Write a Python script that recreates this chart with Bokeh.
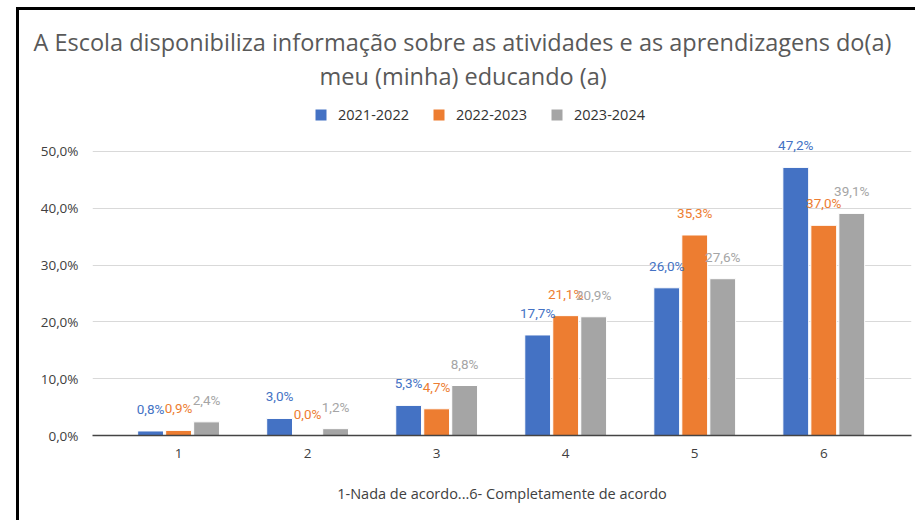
from bokeh.plotting import figure
from bokeh.models import Range1d, Legend, LegendItem, Title, FixedTicker, ColumnDataSource
from bokeh.core.properties import value
from bokeh.embed import file_html
from bokeh.resources import INLINE

categories = [1, 2, 3, 4, 5, 6]
cat_labels = ["1", "2", "3", "4", "5", "6"]
series_names = ["2021-2022", "2022-2023", "2023-2024"]
s2021 = [0.8, 3.0, 5.3, 17.7, 26.0, 47.2]
s2022 = [0.9, 0.0, 4.7, 21.1, 35.3, 37.0]
s2023 = [2.4, 1.2, 8.8, 20.9, 27.6, 39.1]
colors = ["#4472C4", "#ED7D31", "#A5A5A5"]
label_colors = ["#4472C4", "#ED7D31", "#A5A5A5"]
y_ticks = [0, 10, 20, 30, 40, 50]
title_line1 = "A Escola disponibiliza informação sobre as atividades e as aprendizagens do(a)"
title_line2 = "meu (minha) educando (a)"
x_title = "1-Nada de acordo...6- Completamente de acordo"

def fmt(v):
    return f"{v:.1f}".replace(".", ",") + "%"

W, H = 899, 513
p = figure(width=W, height=H,
           x_range=Range1d(0.333, 6.68), y_range=Range1d(0, 60.56),
           output_backend="svg", toolbar_location=None, title=None,
           min_border_left=73, min_border_right=7, min_border_top=81, min_border_bottom=88)
p.styles = {"margin-left": "16px", "margin-top": "7px",
            "border-left": "3px solid black", "border-top": "3px solid black"}
p.outline_line_color = None
p.background_fill_color = "white"
p.border_fill_color = "white"

offsets = [-0.217, 0.0, 0.217]
bar_w = 0.2
all_series = [s2021, s2022, s2023]
renderers = []
for vals, off, col in zip(all_series, offsets, colors):
    src = ColumnDataSource(dict(x=[c + off for c in categories], top=vals))
    r = p.vbar(x="x", top="top", width=bar_w, bottom=0, source=src,
               fill_color=col, line_color="white", line_width=1)
    renderers.append(r)

for vals, off, col in zip(all_series, offsets, label_colors):
    src = ColumnDataSource(dict(x=[c + off for c in categories], y=vals, t=[fmt(v) for v in vals]))
    p.text(x="x", y="y", text="t", source=src, text_align="center", text_baseline="middle",
           y_offset=-22, text_font=value("Roboto"), text_font_size="13.5px",
           text_color=col)

# axes
p.xaxis.ticker = FixedTicker(ticks=categories)
p.xaxis.major_label_overrides = {c: l for c, l in zip(categories, cat_labels)}
p.xaxis.axis_line_color = "#444444"
p.xaxis.axis_line_width = 1.5
p.xaxis.major_tick_line_color = None
p.xaxis.minor_tick_line_color = None
p.xaxis.major_label_text_font = "Open Sans"
p.xaxis.major_label_text_font_size = "13.5px"
p.xaxis.major_label_text_color = "#404040"
p.xaxis.major_label_standoff = 7
p.xaxis.axis_label = x_title
p.xaxis.axis_label_text_font = "Open Sans"
p.xaxis.axis_label_text_font_size = "14.5px"
p.xaxis.axis_label_text_font_style = "normal"
p.xaxis.axis_label_text_color = "#404040"
p.xaxis.axis_label_standoff = 23

p.yaxis.ticker = FixedTicker(ticks=y_ticks)
p.yaxis.major_label_overrides = {t: fmt(t) for t in y_ticks}
p.yaxis.axis_line_color = None
p.yaxis.major_tick_line_color = None
p.yaxis.minor_tick_line_color = None
p.yaxis.major_label_text_font = "Open Sans"
p.yaxis.major_label_text_font_size = "13.5px"
p.yaxis.major_label_text_color = "#404040"
p.yaxis.major_label_standoff = 8

p.xgrid.grid_line_color = None
p.ygrid.grid_line_color = "#D9D9D9"
p.ygrid.grid_line_width = 1

legend = Legend(items=[LegendItem(label=n, renderers=[r]) for n, r in zip(series_names, renderers)],
                orientation="horizontal", location=(221, 311),
                glyph_width=15, glyph_height=15, label_standoff=10, spacing=22,
                padding=0, margin=0, border_line_color=None, background_fill_alpha=0,
                label_text_font="Open Sans", label_text_font_size="14.5px", label_text_color="#333333")
p.add_layout(legend)
p.add_layout(Title(text=title_line2, align="left", offset=227, text_font="Open Sans", text_font_size="23.5px",
                   text_font_style="normal", text_color="#595959", standoff=0), "above")
p.add_layout(Title(text=title_line1, align="left", offset=-59, text_font="Open Sans", text_font_size="23.5px",
                   text_font_style="normal", text_color="#595959", standoff=0), "above")

open("out.html", "w").write(file_html(p, INLINE))
